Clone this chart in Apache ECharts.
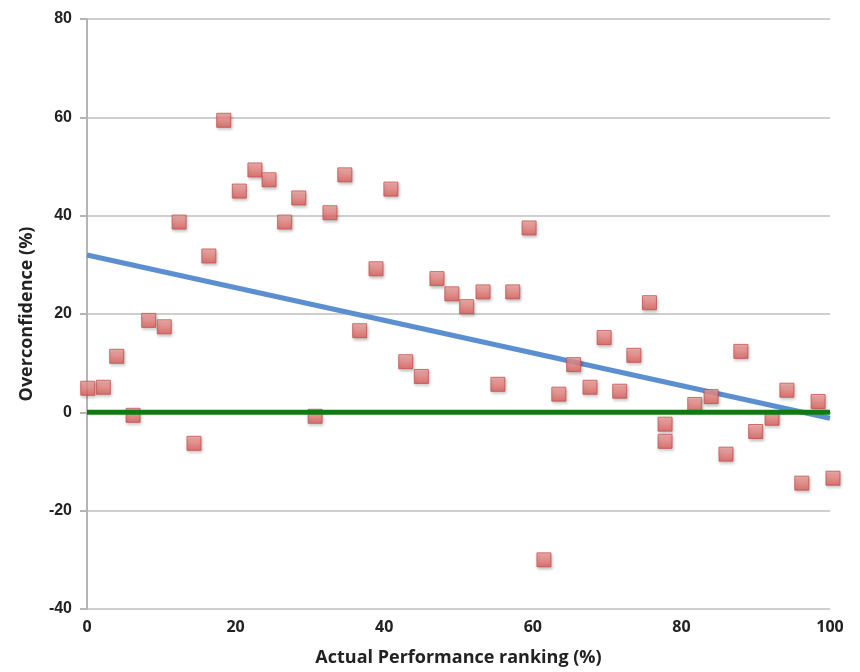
<!DOCTYPE html>
<html>
<head>
<meta charset="utf-8">
<script src="https://cdn.jsdelivr.net/npm/echarts@6/dist/echarts.min.js"></script>
<style>html,body{margin:0;padding:0;background:#fff}#c{width:860px;height:672px}</style>
</head>
<body>
<div id="c"></div>
<script>
const rankX = [0.1, 2.2, 4.0, 6.2, 8.3, 10.4, 12.4, 14.4, 16.4, 18.4, 20.5, 22.6, 24.5, 26.6, 28.5, 30.7, 32.7, 34.7, 36.7, 38.9, 40.9, 42.9, 45.0, 47.1, 49.1, 51.1, 53.3, 55.3, 57.3, 59.5, 61.5, 63.5, 65.5, 67.7, 69.6, 71.7, 73.6, 75.7, 77.8, 77.8, 81.8, 84.0, 86.0, 88.0, 90.0, 92.2, 94.2, 96.2, 98.4, 100.4];
const overconfidence = [4.9, 5.1, 11.4, -0.6, 18.7, 17.4, 38.7, -6.3, 31.8, 59.4, 45.0, 49.3, 47.3, 38.7, 43.6, -0.8, 40.6, 48.3, 16.6, 29.2, 45.4, 10.3, 7.3, 27.2, 24.1, 21.5, 24.5, 5.7, 24.5, 37.5, -30.0, 3.7, 9.7, 5.1, 15.2, 4.3, 11.6, 22.3, -2.4, -5.9, 1.6, 3.2, -8.5, 12.4, -3.9, -1.2, 4.5, -14.4, 2.2, -13.4];
const trendX = [0, 100];
const trendY = [32.0, -1.2];
const zeroX = [0, 100];
const zeroY = [0, 0];
const xTicks = [0, 20, 40, 60, 80, 100];
const yTicks = [-40, -20, 0, 20, 40, 60, 80];

const chart = echarts.init(document.getElementById('c'), null, {renderer: 'canvas'});
const pts = rankX.map((x, i) => [x, overconfidence[i]]);
chart.setOption({
  animation: false,
  backgroundColor: '#fff',
  grid: {left: 87, right: 30, top: 19, bottom: 60},
  xAxis: {
    type: 'value', min: xTicks[0], max: xTicks[xTicks.length - 1], interval: 20,
    name: 'Actual Performance ranking (%)', nameLocation: 'middle', nameGap: 40,
    nameTextStyle: {fontFamily: 'Open Sans', fontWeight: 'bold', fontSize: 18, color: '#222'},
    axisLine: {lineStyle: {color: '#b4b4b4', width: 2}},
    axisTick: {show: false},
    axisLabel: {fontFamily: 'Open Sans', fontWeight: 'bold', fontSize: 16, color: '#222', margin: 10},
    splitLine: {show: false}
  },
  yAxis: {
    type: 'value', min: yTicks[0], max: yTicks[yTicks.length - 1], interval: 20,
    name: 'Overconfidence (%)', nameLocation: 'middle', nameGap: 51, nameRotate: 90,
    nameTextStyle: {fontFamily: 'Open Sans', fontWeight: 'bold', fontSize: 18, color: '#222'},
    axisLine: {show: true, lineStyle: {color: '#b4b4b4', width: 2}},
    axisTick: {show: true, length: 7, lineStyle: {color: '#b4b4b4', width: 2}},
    axisLabel: {fontFamily: 'Liberation Sans', fontWeight: 'bold', fontSize: 16, color: '#222', margin: 15},
    splitLine: {show: true, lineStyle: {color: '#cfcfcf', width: 2}}
  },
  series: [
    {
      type: 'line', data: trendX.map((x, i) => [x, trendY[i]]), symbol: 'none', z: 2,
      lineStyle: {color: '#5b8fd0', width: 5}
    },
    {
      type: 'scatter', data: pts, symbol: 'rect', symbolSize: 14, z: 3, clip: false,
      itemStyle: {
        color: new echarts.graphic.LinearGradient(0, 0, 0, 1, [
          {offset: 0, color: '#f5a7a4'}, {offset: 1, color: '#dc5a56'}
        ]),
        borderColor: '#c4504c', borderWidth: 1,
        shadowBlur: 3, shadowOffsetX: 1, shadowOffsetY: 2, shadowColor: 'rgba(0,0,0,0.3)'
      }
    },
    {
      type: 'line', data: zeroX.map((x, i) => [x, zeroY[i]]), symbol: 'none', z: 4,
      lineStyle: {color: '#0f7a0f', width: 5}
    }
  ]
});
</script>
</body>
</html>
